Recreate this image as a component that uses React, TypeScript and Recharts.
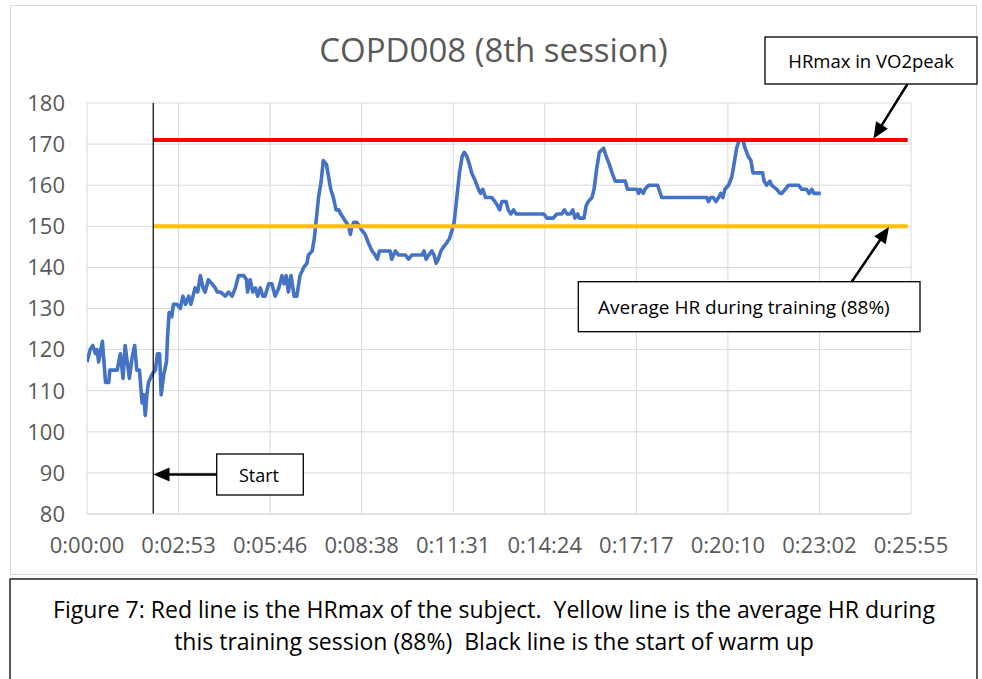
import React from 'react';
import { LineChart, Line, XAxis, YAxis, CartesianGrid, ReferenceLine } from 'recharts';

// elapsed time in seconds since recording start
const times = [
  0, 6, 11, 16, 19, 22, 29, 35, 41, 43, 50, 57, 60, 63, 68, 72, 80, 85, 90, 94,
  99, 104, 107, 110, 113, 116, 123, 129, 133, 137, 140, 145, 150, 152, 155, 157, 160, 163, 170, 176,
  181, 186, 192, 196, 200, 204, 209, 214, 219, 223, 229, 236, 242, 246, 252, 261, 267, 274, 280, 286,
  296, 301, 303, 308, 313, 318, 322, 327, 332, 336, 343, 349, 355, 362, 368, 372, 376, 380, 385, 391,
  396, 402, 409, 415, 418, 425, 429, 433, 437, 442, 446, 452, 456, 460, 465, 470, 475, 479, 484, 489,
  494, 497, 500, 504, 509, 514, 519, 525, 531, 538, 544, 548, 552, 566, 572, 575, 582, 588, 601, 607,
  613, 623, 632, 636, 640, 645, 651, 655, 659, 663, 668, 673, 679, 684, 689, 693, 698, 703, 708, 712,
  717, 722, 726, 733, 739, 743, 747, 752, 764, 770, 775, 779, 783, 791, 795, 800, 805, 810, 862, 868,
  880, 887, 896, 901, 906, 912, 917, 921, 926, 929, 938, 942, 946, 953, 957, 962, 967, 975, 980, 986,
  991, 997, 1016, 1020, 1038, 1041, 1044, 1050, 1053, 1060, 1077, 1082, 1085, 1170, 1173, 1177, 1182, 1187, 1192, 1196,
  1200, 1204, 1211, 1217, 1221, 1226, 1231, 1238, 1242, 1248, 1253, 1257, 1275, 1278, 1283, 1289, 1292, 1302, 1308, 1311,
  1318, 1324, 1343, 1349, 1358, 1363, 1368, 1372, 1385,
];

const heartRate = [
  117, 120, 121, 119, 120, 117, 122, 112, 112, 115, 115, 115, 117, 119, 113, 121, 113, 118, 121, 115,
  115, 107, 109, 104, 109, 112, 114, 115, 119, 119, 109, 114, 117, 123, 129, 129, 128, 131, 131, 130,
  133, 131, 133, 131, 133, 135, 134, 138, 135, 134, 137, 136, 135, 134, 134, 133, 134, 133, 135, 138,
  138, 137, 134, 137, 134, 135, 133, 135, 133, 133, 136, 136, 133, 135, 138, 136, 138, 134, 138, 133,
  133, 138, 140, 141, 143, 144, 147, 152, 157, 161, 166, 165, 162, 159, 157, 154, 154, 153, 152, 151,
  150, 148, 150, 151, 151, 150, 149, 148, 146, 144, 143, 142, 144, 144, 144, 142, 144, 143, 143, 142,
  143, 143, 143, 144, 142, 143, 144, 143, 141, 142, 144, 145, 146, 147, 149, 151, 157, 163, 167, 168,
  167, 165, 163, 161, 159, 158, 159, 157, 157, 156, 155, 154, 156, 156, 154, 153, 154, 153, 153, 152,
  152, 153, 153, 154, 153, 153, 154, 152, 153, 152, 152, 155, 156, 157, 159, 164, 168, 169, 167, 165,
  163, 161, 161, 159, 159, 158, 159, 158, 159, 160, 160, 158, 157, 157, 156, 157, 157, 156, 157, 158,
  157, 159, 160, 162, 165, 169, 171, 171, 169, 167, 166, 163, 163, 161, 160, 161, 160, 159, 158, 158,
  159, 160, 160, 159, 159, 158, 159, 158, 158,
];

// Excel major unit 0.002 day = 172.8 s
const xTicks = [0, 172.8, 345.6, 518.4, 691.2, 864, 1036.8, 1209.6, 1382.4, 1555.2];
const yTicks = [80, 90, 100, 110, 120, 130, 140, 150, 160, 170, 180];

const hrMax = 171;
const avgHr = 150;
const warmupStart = 125;
const refLineEnd = 1549;

const data = times.map((t, i) => ({ t, hr: heartRate[i] }));

const fmtTime = (s: number) => {
  const r = Math.round(s);
  const h = Math.floor(r / 3600);
  const m = Math.floor((r % 3600) / 60);
  const sec = r % 60;
  return `${h}:${String(m).padStart(2, '0')}:${String(sec).padStart(2, '0')}`;
};

function Arrow({ from, to }: { from: [number, number]; to: [number, number] }) {
  const [x1, y1] = from;
  const [x2, y2] = to;
  const len = Math.hypot(x2 - x1, y2 - y1);
  const ux = (x2 - x1) / len;
  const uy = (y2 - y1) / len;
  const head = 16;
  const half = 7;
  const bx = x2 - ux * head;
  const by = y2 - uy * head;
  const pts = `${x2},${y2} ${bx - uy * half},${by + ux * half} ${bx + uy * half},${by - ux * half}`;
  return (
    <g>
      <line x1={x1} y1={y1} x2={bx + ux * 2} y2={by + uy * 2} stroke="#000" strokeWidth={2.5} />
      <polygon points={pts} fill="#000" />
    </g>
  );
}

export default function App() {
  return (
    <div
      style={{
        position: 'absolute',
        left: 0,
        top: 0,
        width: 982,
        height: 679,
        background: '#fff',
        overflow: 'hidden',
        fontFamily: "'Open Sans', sans-serif",
      }}
    >
      {/* chart area border */}
      <div
        style={{
          position: 'absolute',
          left: 10,
          top: 5,
          width: 967,
          height: 570,
          border: '1px solid #D9D9D9',
          boxSizing: 'border-box',
        }}
      />

      <div style={{ position: 'absolute', left: 0, top: 0 }}>
        <LineChart width={982} height={575} data={data} margin={{ top: 103, right: 71, bottom: 31, left: 0 }}>
          <CartesianGrid stroke="#D9D9D9" />
          <XAxis
            dataKey="t"
            type="number"
            domain={[0, 1555.2]}
            ticks={xTicks}
            interval={0}
            tickFormatter={fmtTime}
            tick={{ fill: '#595959', fontSize: 22 }}
            axisLine={{ stroke: '#D9D9D9' }}
            tickLine={false}
            tickMargin={17}
            height={30}
            allowDataOverflow
          />
          <YAxis
            domain={[80, 180]}
            ticks={yTicks}
            interval={0}
            tick={{ fill: '#595959', fontSize: 22 }}
            axisLine={false}
            tickLine={false}
            tickMargin={16}
            width={87}
          />
          <Line
            type="linear"
            dataKey="hr"
            stroke="#4472C4"
            strokeWidth={3.6}
            strokeLinejoin="round"
            dot={false}
            isAnimationActive={false}
          />
          <ReferenceLine
            segment={[{ x: warmupStart, y: hrMax }, { x: refLineEnd, y: hrMax }]}
            stroke="#FF0000"
            strokeWidth={4}
          />
          <ReferenceLine
            segment={[{ x: warmupStart, y: avgHr }, { x: refLineEnd, y: avgHr }]}
            stroke="#FFC000"
            strokeWidth={4}
          />
          <ReferenceLine x={warmupStart} stroke="#000" strokeWidth={1.2} />
        </LineChart>
      </div>

      {/* title, callouts and caption */}
      <svg width={982} height={679} style={{ position: 'absolute', left: 0, top: 0, pointerEvents: 'none' }}>
        <text x={493.5} y={49} textAnchor="middle" dominantBaseline="central" fontSize={33} fill="#595959">
          COPD008 (8th session)
        </text>

        <rect x={765} y={37} width={212} height={47} fill="#fff" stroke="#000" strokeWidth={1.3} />
        <text x={871} y={60.5} textAnchor="middle" dominantBaseline="central" fontSize={18.5} fill="#000">
          HRmax in VO2peak
        </text>
        <Arrow from={[907.5, 84]} to={[873.5, 138.5]} />

        <rect x={578.3} y={281.7} width={341.7} height={50} fill="#fff" stroke="#000" strokeWidth={1.3} />
        <text x={598} y={306.7} dominantBaseline="central" fontSize={19} fill="#000">
          Average HR during training (88%)
        </text>
        <Arrow from={[851.7, 281.7]} to={[889, 227]} />

        <rect x={216.7} y={454} width={86.6} height={41} fill="#fff" stroke="#000" strokeWidth={1.3} />
        <text x={259} y={474.5} textAnchor="middle" dominantBaseline="central" fontSize={18} fill="#000">
          Start
        </text>
        <Arrow from={[216.7, 474.5]} to={[153.5, 474.5]} />

        <rect x={10} y={579} width={967} height={110} fill="#fff" stroke="#000" strokeWidth={1.3} />
        <text x={494} y={609} textAnchor="middle" dominantBaseline="central" fontSize={23} fill="#000" style={{ whiteSpace: 'pre' }}>
          Figure 7: Red line is the HRmax of the subject.  Yellow line is the average HR during
        </text>
        <text x={494} y={641} textAnchor="middle" dominantBaseline="central" fontSize={23} fill="#000" style={{ whiteSpace: 'pre' }}>
          this training session (88%)  Black line is the start of warm up
        </text>
      </svg>
    </div>
  );
}
